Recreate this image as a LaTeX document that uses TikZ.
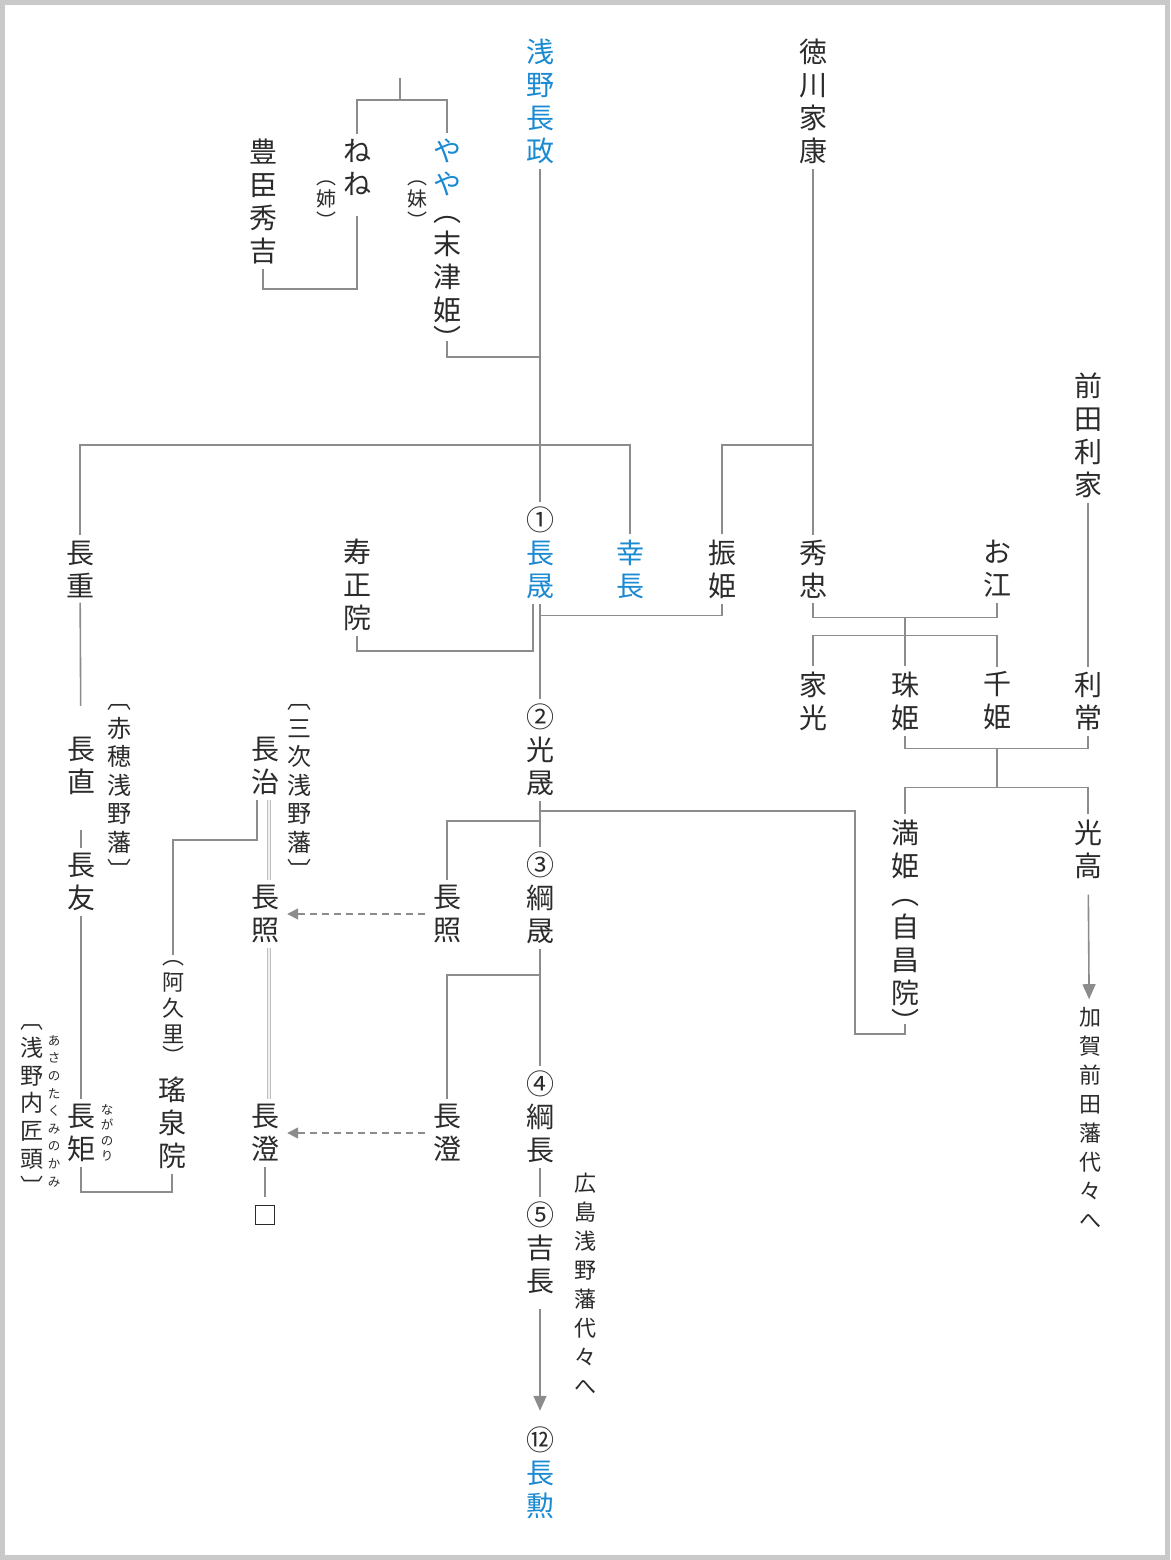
\documentclass[tikz,border=0pt]{standalone}
\usepackage{fontspec}
\newfontfamily\jp{Noto Sans CJK JP}
\usetikzlibrary{arrows.meta}
\definecolor{ink}{HTML}{2B2B2B}
\definecolor{kingray}{HTML}{8C8C8C}
\definecolor{asablue}{HTML}{1A8AD2}
\definecolor{framegray}{HTML}{C9C9C9}

\begin{document}
\begin{tikzpicture}[
  x=1pt, y=-1pt,
  person/.style={font=\jp\fontsize{28}{33}\selectfont, text=ink, align=center, inner xsep=0pt, inner ysep=5pt},
  blueperson/.style={person, text=asablue},
  memo/.style={font=\jp\fontsize{22}{29}\selectfont, text=ink, align=center, inner xsep=0pt, inner ysep=5pt},
  hanmemo/.style={font=\jp\fontsize{24}{28.5}\selectfont, text=ink, align=center, inner xsep=0pt, inner ysep=3pt},
  smallmemo/.style={font=\jp\fontsize{20}{22}\selectfont, text=ink, align=center, inner xsep=0pt, inner ysep=2pt},
  ruby/.style={font=\jp\fontsize{12.5}{#1}\selectfont, text=ink, align=center, inner sep=0pt},
  kin/.style={draw=kingray, line width=1.6pt},
  adopt/.style={draw=gray!50, double=gray!12, double distance=1.2pt, line width=1.8pt},
  heir/.style={kin, dash pattern=on 7pt off 5pt, -{Triangle[length=11pt,width=11pt]}, shorten <=8pt, shorten >=8pt},
  descend/.style={kin, -{Triangle[length=15pt,width=13pt]}},
]

  % frame
  \fill[framegray] (0,0) rectangle (1170,1560);
  \fill[white] (5,5) rectangle (1165,1555);

  % first generation
  \node[blueperson] (asano) at (540,101) {浅\\野\\長\\政};
  \node[person] (ieyasu) at (813,101) {徳\\川\\家\\康};
  \node[person] (toshiie) at (1088,435) {前\\田\\利\\家};
  \node[person] (hideyoshi) at (263,201) {豊\\臣\\秀\\吉};
  \node[person] (nene) at (357,167) {ね\\ね};
  \node[smallmemo] (ane) at (326,205) {︵\\姉\\︶};
  \node[blueperson] (yaya) at (447,167) {や\\や};
  \node[smallmemo] (imo) at (417,205) {︵\\妹\\︶};
  \node[person] (suetsu) at (447,283) {︵\\末\\津\\姫\\[-4pt]︶};

  % second generation
  \node[person] (nagashige) at (80,569) {長\\重};
  \node[person] (jushoin) at (357,585) {寿\\正\\院};
  \node[person] (n1) at (540,553) {①\\\textcolor{asablue}{長}\\\textcolor{asablue}{晟}};
  \node[blueperson] (yukinaga) at (630,569) {幸\\長};
  \node[person] (furihime) at (722,569) {振\\姫};
  \node[person] (hidetada) at (813,569) {秀\\忠};
  \node[person] (go) at (997,569) {お\\江};
  \node[person] (iemitsu) at (813,701) {家\\光};
  \node[person] (tamahime) at (905,701) {珠\\姫};
  \node[person] (senhime) at (997,701) {千\\姫};
  \node[person] (toshitsune) at (1088,701) {利\\常};

  % Hiroshima line
  \node[person] (n2) at (540,750) {②\\光\\晟};
  \node[person] (manhime) at (905,849) {満\\姫};
  \node[person] (jishoin) at (905,966) {︵\\自\\昌\\院\\[-4pt]︶};
  \node[person] (mitsutaka) at (1088,849) {光\\高};
  \node[memo] (kaga) at (1090,1118) {加\\賀\\前\\田\\藩\\代\\々\\へ};
  \node[person] (n3) at (540,898) {③\\綱\\晟};
  \node[person] (nagaakiraR) at (447,914) {長\\照};
  \node[person] (n4) at (540,1117) {④\\綱\\長};
  \node[person] (nagazumiR) at (447,1133) {長\\澄};
  \node[person] (n5) at (540,1248) {⑤\\吉\\長};
  \node[memo] (hiroshima) at (585,1284) {広\\島\\浅\\野\\藩\\代\\々\\へ};
  \node[person] (n12) at (540,1473) {⑫\\\textcolor{asablue}{長}\\\textcolor{asablue}{勲}};

  % Ako and Miyoshi lines
  \node[person] (naganao) at (81,766) {長\\直};
  \node[person] (nagatomo) at (81,882) {長\\友};
  \node[person] (naganori) at (81,1133) {長\\矩};
  \node[ruby=15.5] (naganoriruby) at (107,1133) {な\\が\\の\\り};
  \node[hanmemo] (ako) at (119,792) {︹\\赤\\穂\\浅\\野\\藩\\︺};
  \node[font=\jp\fontsize{23}{27.75}\selectfont, text=ink, align=center, inner sep=0pt] (takumi) at (32,1110) {︹\\浅\\野\\内\\匠\\頭\\︺};
  \node[ruby=17.6] (takumiruby) at (54,1111) {あ\\さ\\の\\た\\く\\み\\の\\か\\み};
  \node[hanmemo] (miyoshi) at (299,792) {︹\\三\\次\\浅\\野\\藩\\︺};
  \node[person] (nagaharu) at (265,766) {長\\治};
  \node[person] (nagaakiraL) at (265,914) {長\\照};
  \node[person] (nagazumiL) at (265,1133) {長\\澄};
  \node[draw=ink, line width=1.3pt, minimum size=19pt, inner sep=0pt] (hako) at (265,1215) {};
  \node[font=\jp\fontsize{22}{26}\selectfont, text=ink, align=center, inner xsep=0pt, inner ysep=5pt] (akuri) at (173,1012) {︵\\阿\\久\\里\\[-4pt]︶};
  \node[person] (yozeiin) at (172,1123) {瑤\\泉\\院};

  % top bracket
  \coordinate (oya) at (400,78);
  \draw[kin] (oya) -- ++(0,22) -| (nene.north);
  \draw[kin] (oya) ++(0,22) -| (yaya.north);
  \draw[kin] (hideyoshi.south) -- ++(0,20) -| ([yshift=-16pt]nene.south);
  \draw[kin] ([yshift=14pt]suetsu.south) -- ++(0,16) -| (n1.north);

  % children of Nagamasa and Ieyasu
  \coordinate (kyodai) at (540,445);
  \draw[kin] (asano) -- (n1);
  \draw[kin] (nagashige.north) |- (kyodai) -| (yukinaga.north);
  \draw[kin] (ieyasu) -- (hidetada);
  \draw[kin] (furihime.north) |- (ieyasu |- kyodai);
  \draw[kin] (toshiie) -- (toshitsune);

  % marriages around Nagaakira
  \draw[kin] (jushoin.south) -- ++(0,15) -| ([xshift=-7pt]n1.south);
  \draw[kin] (furihime.south) -- ++(0,12) -| (n1.south);
  \draw[kin] (n1) -- (n2);

  % Tokugawa and Maeda
  \draw[kin] (hidetada.south) -- ++(0,14) coordinate (fufuA) -| (go.south);
  \draw[kin] (tamahime.north) -- (tamahime |- fufuA);
  \draw[kin] (iemitsu.north) -- ++(0,-31) -| (senhime.north);
  \draw[kin] (tamahime.south) -- ++(0,13) coordinate (fufuB) -| (toshitsune.south);
  \draw[kin] (manhime.north) -- ++(0,-27) coordinate (kodomoB) -| (mitsutaka.north);
  \draw[kin] (senhime |- fufuB) -- (senhime |- kodomoB);
  \draw[descend, shorten <=11pt, shorten >=3pt] (mitsutaka) -- (kaga);

  % Hiroshima main line
  \draw[kin] (n2) -- (n3);
  \draw[kin] (nagaakiraR.north) |- ([yshift=-20pt]n2.south);
  \draw[kin] ([yshift=14pt]jishoin.south) -- ++(0,10) -- ++(-50,0) |- ([yshift=-10pt]n2.south);
  \draw[kin] (n3) -- (n4);
  \draw[kin] (nagazumiR.north) |- ([yshift=-26pt]n3.south);
  \draw[kin] (n4) -- (n5);
  \draw[descend, shorten <=10pt, shorten >=11pt] (n5) -- (n12);

  % branch families
  \draw[heir] (nagaakiraR) -- (nagaakiraL);
  \draw[heir] (nagazumiR) -- (nagazumiL);
  \draw[adopt] ([xshift=4pt]nagaharu.south) -- ([xshift=4pt]nagaakiraL.north);
  \draw[adopt] ([xshift=4pt]nagaakiraL.south) -- ([xshift=4pt]nagazumiL.north);
  \draw[kin, shorten >=8pt] (nagazumiL) -- (hako);
  \draw[kin] ([xshift=-8pt]nagaharu.south) -- ++(0,40) -| (akuri.north);
  \draw[kin, shorten >=26pt] (nagashige) -- (naganao);
  \draw[kin, shorten <=30pt] (naganao) -- (nagatomo);
  \draw[kin] (nagatomo) -- (naganori);
  \draw[kin] (naganori.south) -- ++(0,25) -| (yozeiin.south);
\end{tikzpicture}
\end{document}
